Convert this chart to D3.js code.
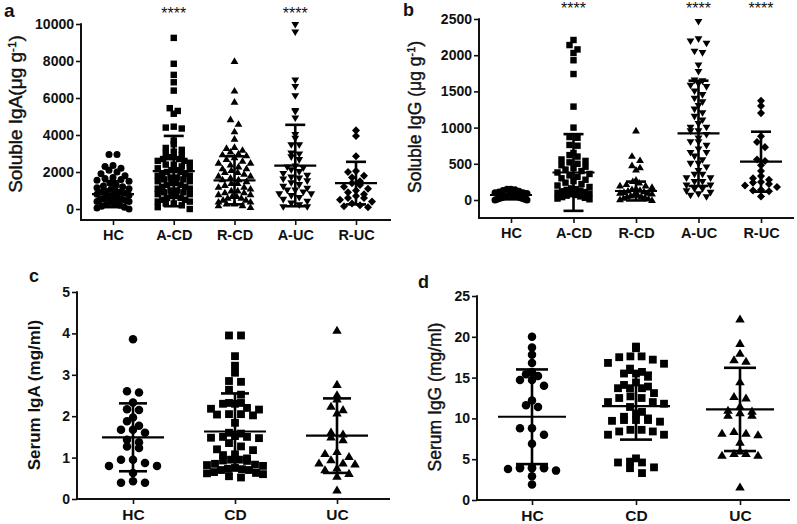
<!DOCTYPE html>
<html><head><meta charset="utf-8">
<script src="https://cdn.jsdelivr.net/npm/d3@7"></script>
<style>
body{margin:0;background:#fff}
svg{display:block}
text{font-family:"Liberation Sans",Arial,sans-serif;fill:#111}
</style>
</head><body>
<svg id="chart" width="797" height="524"></svg>
<script>
// ---------- categories & ticks ----------
const groupsTop = ["HC","A-CD","R-CD","A-UC","R-UC"];
const groupsBottom = ["HC","CD","UC"];
const ticksA = [0,2000,4000,6000,8000,10000];
const ticksB = [0,500,1000,1500,2000,2500];
const ticksC = [0,1,2,3,4,5];
const ticksD = [0,5,10,15,20,25];

// ---------- panel a: soluble IgA (µg/g) ----------
const aHC = [2950,2950,2350,2300,2200,2100,2000,1900,1800,1700,1650,1600,1550,1500,1400,1300,1250,1200,1150,1100,1050,1000,950,900,900,850,800,750,700,700,650,600,600,550,550,500,500,450,400,400,350,300,250,200,150,100,50,0];
const aACD = [9250,7850,7250,6850,6400,5450,5300,5150,4450,4400,4350,3700,3500,3300,3200,3100,3000,2900,2800,2800,2700,2700,2600,2600,2500,2400,2400,2300,2200,2200,2100,2100,2000,2000,1900,1900,1800,1800,1700,1700,1600,1600,1500,1500,1400,1400,1300,1300,1200,1200,1100,1100,1000,1000,900,900,800,800,700,700,600,600,500,500,400,400,300,300,200,100,0];
const aRCD = [8000,6400,5800,4850,4600,4200,3800,3350,3300,3200,3100,3000,2950,2900,2800,2700,2600,2500,2500,2400,2300,2200,2200,2100,2000,2000,1900,1800,1800,1700,1600,1600,1500,1400,1400,1300,1200,1200,1100,1000,1000,900,900,800,800,700,700,600,600,500,500,400,400,300,300,200,200,100];
const aAUC = [9950,9550,6950,6600,6100,5300,5250,4900,4000,3800,3450,3450,3000,2950,2800,2650,2300,2250,2200,2100,2000,1900,1800,1700,1650,1600,1500,1400,1300,1200,1100,1000,1000,900,800,800,700,600,500,400,300,200,100,100];
const aRUC = [4250,3950,2850,2050,2000,1800,1700,1500,1400,1300,1200,1100,1000,900,800,700,600,600,500,400,300,200,150,100];
const aMean = [800,2050,1550,2350,1400];
const aSD = [700,1900,1300,2200,1150];
const aStars = ["","****","","****",""];

// ---------- panel b: soluble IgG (µg/g) ----------
const bHC = [150,150,140,130,120,110,100,100,90,80,70,60,60,50,50,40,40,30,30,20,20,10,10,0,0];
const bACD = [2210,2140,2080,2030,1930,1740,1290,1000,870,860,760,750,650,620,600,560,540,520,500,480,460,440,420,400,380,360,340,320,300,280,260,240,220,200,180,160,150,140,130,120,110,100,90,80,70,60,50,40,30,20,10];
const bRCD = [960,610,550,480,450,420,280,260,240,220,200,200,180,160,150,140,130,120,110,100,100,90,80,70,60,50,50,40,30,20,10,0];
const bAUC = [2460,2220,2190,2160,2050,2030,1860,1770,1650,1640,1600,1580,1560,1500,1450,1400,1350,1300,1250,1200,1150,1100,1050,1000,1000,950,950,900,850,800,800,750,700,650,650,600,550,500,500,450,400,350,350,300,300,250,250,200,200,150,150,120,100,80,60,40];
const bRUC = [1370,1300,1200,880,800,730,560,540,480,400,330,300,280,250,240,220,200,180,140,130,120,50];
const bMean = [69,380,124,921,529];
const bSD = [60,530,130,727,414];
const bStars = ["","****","","****","****"];

// ---------- panel c: serum IgA (mg/ml) ----------
const cHC = [3.86,2.6,2.57,2.33,2.17,2.15,1.97,1.88,1.77,1.67,1.67,1.6,1.43,1.37,1.27,1.23,0.95,0.95,0.87,0.8,0.8,0.63,0.43,0.39,0.39];
const cCD = [3.95,3.95,3.45,3.22,3.05,2.85,2.83,2.64,2.52,2.32,2.3,2.3,2.32,2.2,2.18,2.16,2.05,2.04,2.02,2.05,1.84,1.6,1.58,1.52,1.48,1.5,1.5,1.47,1.35,1.27,1.2,1.18,1.08,1.06,0.98,0.95,0.93,0.95,0.92,0.85,0.83,0.82,0.8,0.75,0.73,0.72,0.7,0.7,0.65,0.63,0.6,0.62,0.55,0.52];
const cUC = [4.08,2.77,2.52,2.42,2.24,2.16,2.08,1.62,1.57,1.5,1.43,1.15,1.1,1.03,0.95,0.87,0.87,0.85,0.75,0.71,0.62,0.55,0.22];
const cMean = [1.49,1.63,1.53];
const cSD = [0.82,0.92,0.9];

// ---------- panel d: serum IgG (mg/ml) ----------
const dHC = [20.0,18.7,17.8,16.8,15.7,15.4,15.2,14.7,14.7,14.0,12.2,11.6,11.4,8.8,8.8,8.0,6.9,4.0,4.0,3.9,3.9,3.8,3.9,4.0,3.6,2.9,1.9];
const dCD = [18.8,18.6,17.6,17.6,17.5,17.2,16.8,16.7,16.1,15.7,15.5,15.5,15.1,14.4,14.1,13.9,13.7,13.7,13.7,13.1,12.7,12.5,12.5,12.0,12.0,11.8,11.4,10.8,10.6,10.2,10.0,9.8,9.8,9.8,9.7,9.6,8.6,8.6,8.4,8.4,8.0,8.0,5.1,4.7,4.6,4.6,4.0,3.9,3.3];
const dUC = [22.2,19.2,18.0,17.2,17.0,14.5,12.7,12.5,11.5,11.0,10.9,10.7,10.4,10.4,8.4,8.2,8.2,8.0,7.1,6.0,5.7,5.5,5.5,5.7,1.6];
const dMean = [10.2,11.5,11.1];
const dSD = [5.8,4.1,5.1];

// ---------- drawing ----------
const svg = d3.select("#chart");

function symbolPath(type, d) {
  const h = d / 2;
  switch (type) {
    case "circle": return `M${h},0A${h},${h} 0 1,1 ${-h},0A${h},${h} 0 1,1 ${h},0Z`;
    case "square": { const s = h * 0.92; return `M${-s},${-s}H${s}V${s}H${-s}Z`; }
    case "up": { const w = h * 1.12, t = h * 1.05; return `M0,${-t}L${w},${t * 0.8}L${-w},${t * 0.8}Z`; }
    case "down": { const w = h * 1.12, t = h * 1.05; return `M0,${t}L${w},${-t * 0.8}L${-w},${-t * 0.8}Z`; }
    case "diamond": { const s = h * 1.15; return `M0,${-s}L${s},0L0,${s}L${-s},0Z`; }
  }
}

// GraphPad-like scatter: points binned by pixel height, each bin spread symmetrically
function scatterLayout(vals, y, binH, hstep, maxHalf) {
  const base = y.range()[0];
  const bins = d3.group(vals.map(v => ({ v, py: y(v) })), p => Math.floor((base - p.py) / binH));
  const out = [];
  for (const [, arr] of bins) {
    arr.sort((a, b) => b.v - a.v);
    const n = arr.length;
    const step = n > 1 ? Math.min(hstep, 2 * maxHalf / (n - 1)) : 0;
    // order slots from centre outwards so the pattern stays symmetric
    const slots = d3.range(n).map(i => (i - (n - 1) / 2) * step)
      .sort((a, b) => Math.abs(a) - Math.abs(b) || a - b);
    arr.forEach((p, i) => { p.dx = slots[i]; out.push(p); });
  }
  return out;
}

function panel(cfg) {
  const g = svg.append("g");
  const x = d3.scalePoint().domain(cfg.groups).range(cfg.xRange);
  const y = d3.scaleLinear().domain(cfg.domain).range(cfg.yRange);

  // y axis
  const ya = g.append("g").attr("transform", `translate(${cfg.axisX},0)`)
    .call(d3.axisLeft(y).tickValues(cfg.ticks).tickSize(5).tickPadding(2).tickSizeOuter(0).tickFormat(d3.format("d")));
  ya.select(".domain").remove();
  ya.selectAll("line").attr("stroke", "#111").attr("stroke-width", 1.6);
  ya.selectAll("text").attr("font-size", cfg.tickFont).attr("font-weight", "bold")
    .attr("font-family", '"Liberation Sans",Arial,sans-serif').attr("fill", "#111");
  g.append("line").attr("x1", cfg.axisX).attr("x2", cfg.axisX)
    .attr("y1", y(cfg.domain[1]) - 0.8).attr("y2", cfg.axisY + 1)
    .attr("stroke", "#111").attr("stroke-width", 2);

  // x axis
  const xa = g.append("g").attr("transform", `translate(0,${cfg.axisY})`)
    .call(d3.axisBottom(x).tickSize(5).tickPadding(5).tickSizeOuter(0));
  xa.select(".domain").remove();
  xa.selectAll("line").attr("stroke", "#111").attr("stroke-width", 1.6);
  xa.selectAll("text").attr("font-size", cfg.catFont).attr("font-weight", "bold")
    .attr("font-family", '"Liberation Sans",Arial,sans-serif').attr("fill", "#111")
    .attr("dy", cfg.catDy);
  g.append("line").attr("x1", cfg.axisX - 1).attr("x2", cfg.xEnd)
    .attr("y1", cfg.axisY).attr("y2", cfg.axisY)
    .attr("stroke", "#111").attr("stroke-width", 2);

  // points
  cfg.series.forEach((vals, i) => {
    const cx = x(cfg.groups[i]);
    const pts = scatterLayout(vals, y, cfg.binH, cfg.hstep, cfg.maxHalf);
    g.append("g").selectAll("path").data(pts).join("path")
      .attr("d", symbolPath(cfg.shapes[i], cfg.msize))
      .attr("transform", p => `translate(${cx + p.dx},${p.py})`)
      .attr("fill", "#000");
  });

  // mean & SD
  cfg.groups.forEach((grp, i) => {
    const cx = x(grp);
    const m = cfg.mean[i], s = cfg.sd[i];
    const eg = g.append("g").attr("stroke", "#000").attr("fill", "none");
    eg.append("line").attr("x1", cx - cfg.meanW / 2).attr("x2", cx + cfg.meanW / 2)
      .attr("y1", y(m)).attr("y2", y(m)).attr("stroke-width", 2.2);
    eg.append("line").attr("x1", cx).attr("x2", cx)
      .attr("y1", y(m + s)).attr("y2", y(m - s)).attr("stroke-width", 2.6);
    [m + s, m - s].forEach(v => {
      eg.append("line").attr("x1", cx - cfg.capW / 2).attr("x2", cx + cfg.capW / 2)
        .attr("y1", y(v)).attr("y2", y(v)).attr("stroke-width", 2.6);
    });
    if (cfg.stars && cfg.stars[i]) {
      g.append("text").attr("x", cx).attr("y", cfg.starY).attr("text-anchor", "middle")
        .attr("font-size", 16).text(cfg.stars[i]);
    }
  });

  // y title
  const t = g.append("text")
    .attr("transform", `translate(${cfg.titleX},${cfg.titleY}) rotate(-90)`)
    .attr("text-anchor", "middle").attr("font-size", cfg.titleFont)
    .attr("font-weight", cfg.titleWeight || "normal")
    .attr("stroke", "#111").attr("stroke-width", cfg.titleStroke || 0);
  t.append("tspan").text(cfg.title[0]);
  if (cfg.title[1]) {
    t.append("tspan").attr("baseline-shift", "super").attr("font-size", cfg.titleFont * 0.62).text(cfg.title[1]);
    t.append("tspan").text(cfg.title[2]);
  }
  // panel letter
  g.append("text").attr("x", cfg.letterX).attr("y", cfg.letterY)
    .attr("font-size", cfg.letterFont).attr("font-weight", "bold").text(cfg.letter);
}

panel({
  letter: "a", letterX: 4, letterY: 17, letterFont: 19,
  groups: groupsTop, series: [aHC, aACD, aRCD, aAUC, aRUC],
  shapes: ["circle", "square", "up", "down", "diamond"],
  mean: aMean, sd: aSD, stars: aStars, starY: 19,
  domain: [0, 10000], ticks: ticksA, yRange: [209, 24],
  xRange: [113, 356], axisX: 81, axisY: 220, xEnd: 391,
  msize: 7, binH: 6.5, hstep: 8, maxHalf: 16, meanW: 42, capW: 20,
  tickFont: 14, catFont: 14.5, catDy: "0.72em",
  title: ["Soluble IgA(\u03bcg g", "-1", ")"], titleX: 22, titleY: 114, titleFont: 19, titleStroke: 0.4
});

panel({
  letter: "b", letterX: 403, letterY: 16, letterFont: 18,
  groups: groupsTop, series: [bHC, bACD, bRCD, bAUC, bRUC],
  shapes: ["circle", "square", "up", "down", "diamond"],
  mean: bMean, sd: bSD, stars: bStars, starY: 14,
  domain: [0, 2500], ticks: ticksB, yRange: [200, 19],
  xRange: [511, 761], axisX: 479, axisY: 218, xEnd: 794,
  msize: 7, binH: 6.5, hstep: 8, maxHalf: 16, meanW: 42, capW: 20,
  tickFont: 14, catFont: 14.5, catDy: "0.72em",
  title: ["Soluble IgG (\u03bcg g", "-1", ")"], titleX: 421, titleY: 117, titleFont: 17.5, titleStroke: 0.4
});

panel({
  letter: "c", letterX: 29, letterY: 282, letterFont: 18,
  groups: groupsBottom, series: [cHC, cCD, cUC],
  shapes: ["circle", "square", "up"],
  mean: cMean, sd: cSD,
  domain: [0, 5], ticks: ticksC, yRange: [499, 292],
  xRange: [133, 337], axisX: 77, axisY: 499, xEnd: 390,
  msize: 8.5, binH: 8, hstep: 12, maxHalf: 28, meanW: 62, capW: 28,
  tickFont: 14, catFont: 15.5, catDy: "0.72em",
  title: ["Serum IgA (mg/ml)"], titleX: 40, titleY: 395, titleFont: 17, titleWeight: "bold"
});

panel({
  letter: "d", letterX: 418, letterY: 288, letterFont: 18,
  groups: groupsBottom, series: [dHC, dCD, dUC],
  shapes: ["circle", "square", "up"],
  mean: dMean, sd: dSD,
  domain: [0, 25], ticks: ticksD, yRange: [500, 296],
  xRange: [532, 740], axisX: 477, axisY: 500, xEnd: 790,
  msize: 8.5, binH: 8, hstep: 12, maxHalf: 28, meanW: 68, capW: 32,
  tickFont: 14, catFont: 15.5, catDy: "0.72em",
  title: ["Serum IgG (mg/ml)"], titleX: 441, titleY: 397, titleFont: 17.5, titleStroke: 0.4
});
</script>
</body></html>
